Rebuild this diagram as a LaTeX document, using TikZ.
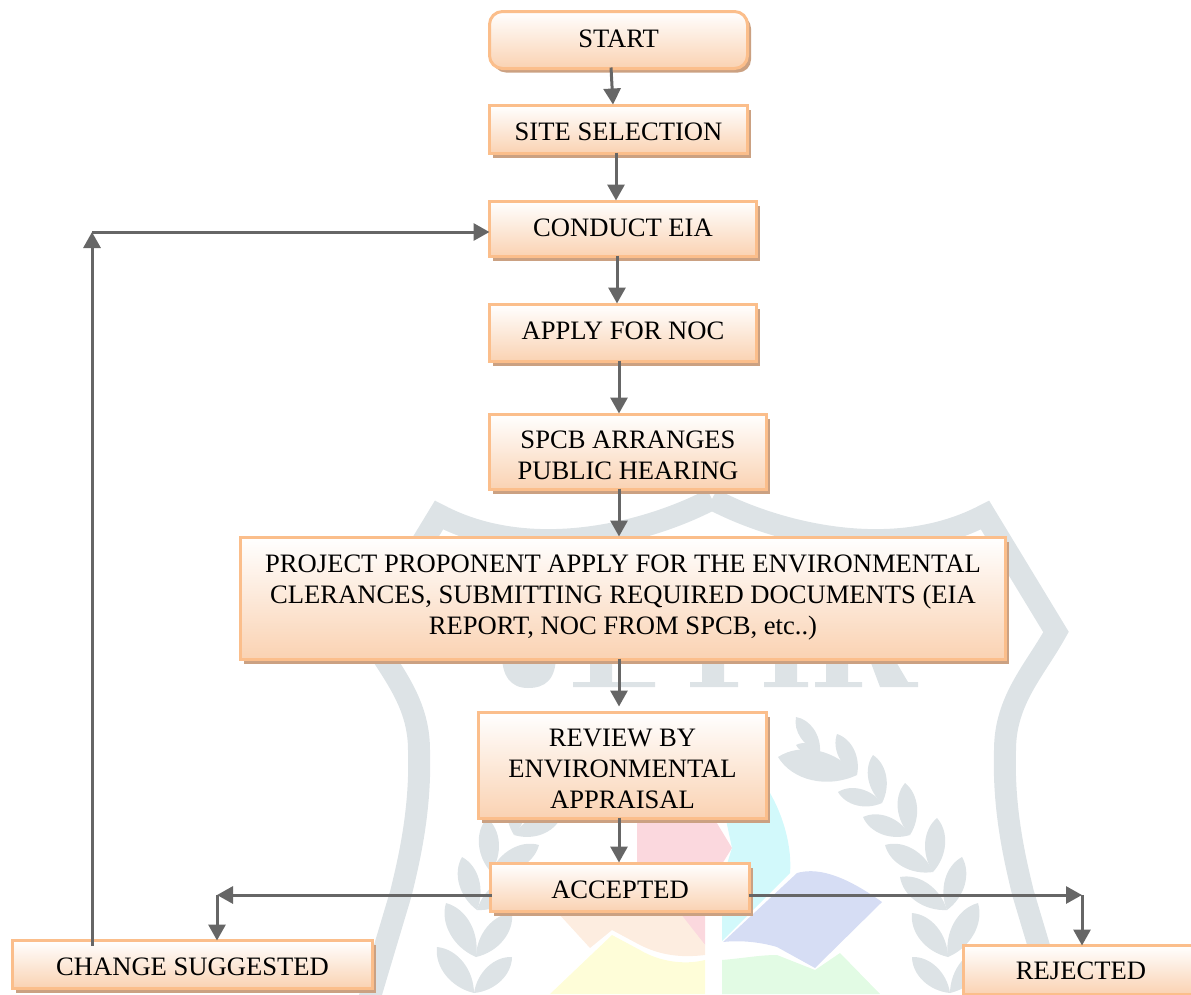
\documentclass[tikz,border=0pt]{standalone}
\usepackage{fontspec}
\setmainfont{Liberation Serif}
\usetikzlibrary{arrows.meta,calc,shadows}
\definecolor{edgeorange}{HTML}{FBBE8B}
\definecolor{fillorange}{HTML}{FAD2B2}
\definecolor{shadowbrown}{HTML}{CBA182}
\definecolor{linkgrey}{HTML}{666666}
\definecolor{markgrey}{HTML}{DDE3E6}
\definecolor{markpink}{HTML}{FBD8DE}
\definecolor{markcyan}{HTML}{D2F9FB}
\definecolor{markblue}{HTML}{D6DDF4}
\definecolor{markgreen}{HTML}{E2FBE4}
\definecolor{markyellow}{HTML}{FEFDD8}
\definecolor{markorange}{HTML}{FDEDE0}
\tikzset{
  boxbase/.style={draw=edgeorange,line width=3pt,top color=white,bottom color=fillorange,
    inner sep=0pt,outer sep=0pt,text=black,
    general shadow={fill=shadowbrown,shadow xshift=3.5pt,shadow yshift=-4pt}},
  link/.style={draw=linkgrey,line width=3pt,-{Triangle[length=16pt,width=17pt]}},
  band/.style={draw=markgrey,line width=22pt,miter limit=8}
}
\newcommand{\txt}[2]{\raisebox{\dimexpr #1pt-9.2pt\relax}[0pt][0pt]{\fontsize{26.6}{31}\selectfont\begin{tabular}{@{}c@{}}#2\end{tabular}}}
\newcommand{\bx}[7][]{\node[boxbase,#1,minimum width={(#5-#3-3)*1pt},minimum height={(#6-#4-3)*1pt}] (#2) at ({(#3+#5)/2},{(#4+#6)/2}) {#7};}
\newcommand{\leaflet}[4]{\fill[markgrey] (#1,#2) coordinate (lfb) (#3,#4) coordinate (lft)
  (lfb) .. controls ($(lfb)!.4!38:(lft)$) and ($(lfb)!.8!18:(lft)$) .. (lft)
  .. controls ($(lfb)!.8!-18:(lft)$) and ($(lfb)!.4!-38:(lft)$) .. (lfb);}
\newcommand{\crest}{%
  \draw[band] (712,499) .. controls (770,530) and (890,565) .. (985,515) -- (1056,632)
    .. controls (1035,670) and (1005,700) .. (1005,750)
    .. controls (1003,810) and (1015,860) .. (1023,893) -- (1055,1000);
  \foreach \a/\b/\c/\d/\e/\f in {
    820/752/796/717/796/745,
    857/775/837/734/778/757,
    882/803/873/755/838/792,
    910/835/905/783/863/817,
    933/872/937/818/885/845,
    947/910/962/857/900/877,
    948/957/978/903/912/913,
    950/993/987/947/912/957}{
    \leaflet{\a}{\b}{\c}{\d}
    \leaflet{\a}{\b}{\e}{\f}
  }
}
\begin{document}
\begin{tikzpicture}[x=1pt,y=-1pt]
\useasboundingbox (0,0) rectangle (1191,994);
\clip (0,0) rectangle (1191,994);
% watermark
\crest
\begin{scope}[xshift=1424pt,xscale=-1]\crest\end{scope}
\fill[markgrey] (502,655) -- (556,655) .. controls (556,680) and (545,688) .. (528,688) .. controls (510,688) and (502,675) .. (502,655) -- cycle;
\fill[markgrey] (590,655) rectangle (612,682) (573,682) rectangle (655,687);
\fill[markgrey] (702,655) rectangle (724,682) (690,682) rectangle (738,687);
\fill[markgrey] (775,655) rectangle (797,682) (764,682) rectangle (808,687);
\fill[markgrey] (826,655) rectangle (848,682) (815,682) rectangle (862,687);
\fill[markgrey] (868,655) -- (892,655) -- (908,682) -- (918,682) -- (918,687) -- (880,687) -- cycle;
\fill[markpink] (637,815) -- (712,815) -- (732,848) -- (712,880) -- (705,917) -- (705,945) -- (680,915) -- (637,880) -- cycle;
\fill[markcyan] (725,815) -- (765,785) .. controls (785,815) and (792,850) .. (790,873) -- (722,941) -- (722,880) -- (732,848) -- cycle;
\fill[markblue] (797,873) .. controls (815,868) and (840,872) .. (882,902) -- (815,968) -- (777,947) .. controls (760,942) and (740,940) .. (723,942) -- cycle;
\fill[markgreen] (722,960) .. controls (745,958) and (760,955) .. (777,955) -- (815,970) -- (840,953) -- (880,994) -- (722,994) -- cycle;
\fill[markyellow] (612,935) -- (640,950) .. controls (660,962) and (685,965) .. (705,960) -- (705,994) -- (550,994) -- cycle;
\fill[markorange] (558,913) -- (680,913) -- (705,945) -- (705,955) .. controls (680,958) and (660,955) .. (640,945) -- (612,930) -- (590,948) -- cycle;
% boxes
\bx[rounded corners=13pt]{start}{488}{10}{749}{70}{\txt{1.2}{START}}
\bx{site}{488}{104}{749}{155}{\txt{-2.2}{SITE SELECTION}}
\bx{eia}{488}{200}{758}{258}{\txt{1.7}{CONDUCT EIA}}
\bx{noc}{488}{303}{758}{363}{\txt{3}{APPLY FOR NOC}}
\bx{spcb}{488}{413}{768}{491}{\txt{-2.5}{SPCB ARRANGES\\PUBLIC HEARING}}
\bx{project}{239}{536}{1007}{661}{\txt{4.5}{PROJECT PROPONENT APPLY FOR THE ENVIRONMENTAL\\CLERANCES, SUBMITTING REQUIRED DOCUMENTS (EIA\\REPORT, NOC FROM SPCB, etc..)}}
\bx{review}{477}{711}{768}{820}{\txt{-2.5}{REVIEW BY\\ENVIRONMENTAL\\APPRAISAL}}
\bx{accepted}{489}{862}{751}{913}{\txt{-1.5}{ACCEPTED}}
\bx{change}{11}{939}{374}{990}{\txt{-2.2}{CHANGE SUGGESTED}}
\bx{rejected}{962}{944}{1200}{996}{\txt{0}{REJECTED}}
% connectors
\coordinate (leftturn) at (217,895);
\coordinate (rightturn) at (1082,895);
\coordinate (topturn) at (92,232);
\draw[link] ($(start.south)+(-7.5,-1)$) -- ($(site.north)+(-5.5,-1)$);
\draw[link] ($(site.south)+(-2.5,-1)$) -- ($(eia.north)+(-7,-1)$);
\draw[link] ($(eia.south)+(-6,-1)$) -- ($(noc.north)+(-6,-1)$);
\draw[link] ($(noc.south)+(-4,-1)$) -- ($(spcb.north)+(-9,-1)$);
\draw[link] ($(spcb.south)+(-9,-1)$) -- ($(project.north)+(-4,-1)$);
\draw[link] ($(project.south)+(-4,-1)$) -- ($(review.north)+(-3.5,-6)$);
\draw[link] ($(review.south)+(-3.5,-1)$) -- ($(accepted.north)+(-1,-1)$);
\draw[link] ($(accepted.west)+(1,7.5)$) -- (leftturn);
\draw[link] (leftturn) -- (leftturn |- change.north);
\draw[link] ($(accepted.east)+(-1,7.5)$) -- (rightturn);
\draw[link] (rightturn) -- (rightturn |- rejected.north);
\draw[link] ($(change.north -| topturn)+(0,5)$) -- (topturn);
\draw[link] (topturn) -- (topturn -| eia.west);
\end{tikzpicture}
\end{document}
